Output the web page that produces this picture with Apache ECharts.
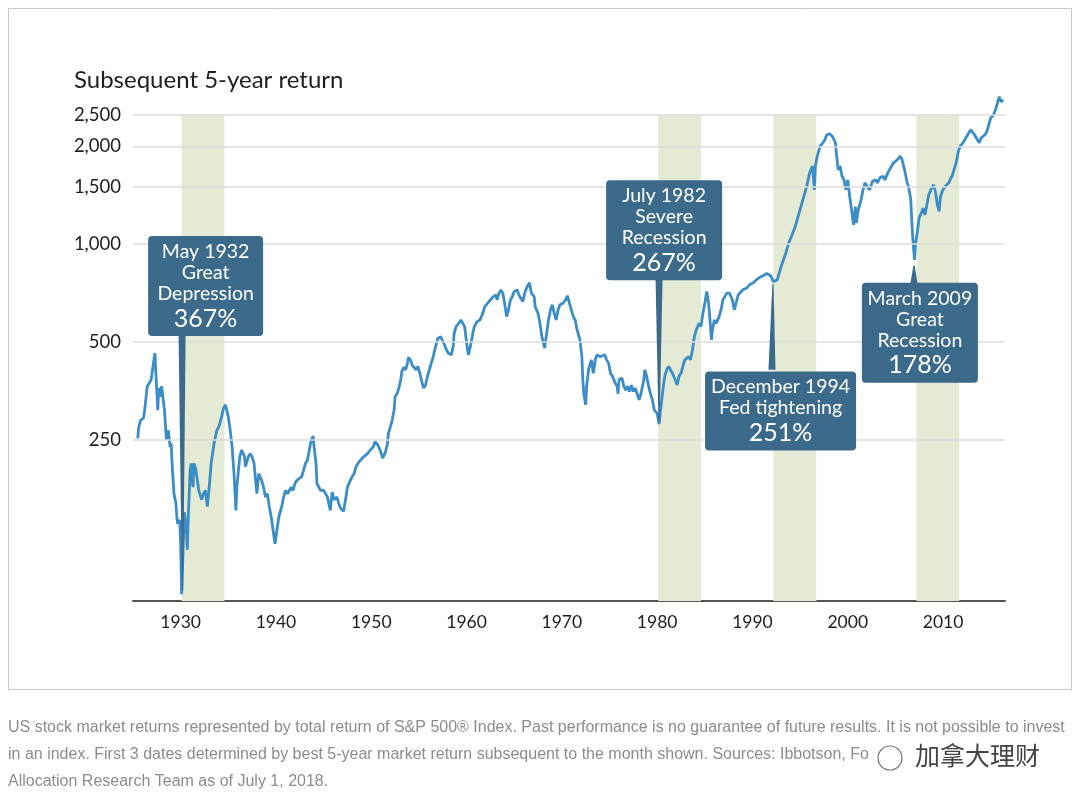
<!DOCTYPE html>
<html>
<head>
<meta charset="utf-8">
<script src="https://cdn.jsdelivr.net/npm/echarts@6/dist/echarts.min.js"></script>
<style>
  html, body { margin: 0; padding: 0; background: #fff; }
  #chart { width: 1080px; height: 802px; }
</style>
</head>
<body>
<div id="chart"></div>
<script>
// years as placed on the printed axis, value of $100 after 5 years (log scale)
var years = [
  1925.5,1925.6,1925.8,1926.1,1926.2,1926.5,1926.7,1926.9,1927.1,1927.3,
  1927.4,1927.6,1927.7,1927.9,1928.0,1928.3,1928.4,1928.5,1928.7,1928.9,
  1929.0,1929.1,1929.3,1929.5,1929.6,1929.7,1929.9,1930.0,1930.1,1930.3,
  1930.4,1930.6,1930.7,1930.8,1931.0,1931.1,1931.3,1931.4,1931.6,1931.8,
  1931.9,1932.2,1932.4,1932.6,1932.8,1933.0,1933.2,1933.5,1933.8,1934.0,
  1934.3,1934.5,1934.7,1935.0,1935.2,1935.4,1935.6,1935.8,1935.9,1936.2,
  1936.4,1936.6,1936.7,1936.8,1937.1,1937.3,1937.5,1937.7,1937.9,1938.0,
  1938.2,1938.5,1938.7,1938.9,1939.1,1939.3,1939.5,1939.7,1939.9,1940.1,
  1940.3,1940.6,1940.8,1941.0,1941.2,1941.4,1941.6,1941.8,1942.0,1942.2,
  1942.4,1942.7,1942.9,1943.1,1943.3,1943.5,1943.7,1943.9,1944.0,1944.2,
  1944.3,1944.5,1944.7,1945.0,1945.4,1945.7,1945.9,1946.1,1946.4,1946.6,
  1946.8,1947.1,1947.3,1947.5,1947.8,1948.0,1948.2,1948.4,1948.7,1948.9,
  1949.2,1949.4,1949.6,1949.9,1950.2,1950.4,1950.7,1951.0,1951.2,1951.5,
  1951.7,1951.8,1952.0,1952.2,1952.4,1952.5,1952.7,1952.9,1953.1,1953.2,
  1953.4,1953.6,1953.8,1953.9,1954.1,1954.3,1954.5,1954.7,1954.9,1955.1,
  1955.3,1955.5,1955.7,1955.9,1956.2,1956.5,1956.7,1957.0,1957.3,1957.5,
  1957.7,1957.9,1958.1,1958.4,1958.6,1958.7,1958.9,1959.2,1959.4,1959.6,
  1959.8,1960.1,1960.2,1960.4,1960.6,1960.8,1961.1,1961.4,1961.7,1961.9,
  1962.2,1962.5,1962.8,1963.1,1963.2,1963.4,1963.6,1963.8,1964.0,1964.2,
  1964.4,1964.6,1964.8,1965.0,1965.3,1965.5,1965.7,1965.9,1966.1,1966.3,
  1966.6,1966.8,1967.1,1967.2,1967.5,1967.7,1967.9,1968.2,1968.4,1968.6,
  1968.8,1969.0,1969.2,1969.4,1969.6,1969.8,1970.1,1970.4,1970.6,1970.8,
  1971.0,1971.2,1971.4,1971.6,1971.9,1972.1,1972.2,1972.3,1972.5,1972.6,
  1972.8,1973.1,1973.3,1973.5,1973.7,1974.0,1974.2,1974.5,1974.7,1974.9,
  1975.1,1975.3,1975.6,1975.8,1975.9,1976.0,1976.3,1976.5,1976.7,1976.9,
  1977.1,1977.3,1977.5,1977.7,1977.9,1978.1,1978.3,1978.6,1978.7,1978.9,
  1979.1,1979.3,1979.5,1979.7,1980.0,1980.2,1980.4,1980.6,1980.8,1981.0,
  1981.2,1981.4,1981.6,1981.9,1982.1,1982.3,1982.5,1982.7,1982.9,1983.1,
  1983.3,1983.5,1983.7,1983.9,1984.1,1984.4,1984.6,1984.8,1985.0,1985.2,
  1985.4,1985.6,1985.7,1985.8,1986.0,1986.2,1986.5,1986.7,1986.9,1987.3,
  1987.6,1987.9,1988.1,1988.5,1989.0,1989.4,1989.7,1990.1,1990.4,1990.8,
  1991.1,1991.5,1991.7,1991.9,1992.2,1992.6,1993.0,1993.5,1993.8,1994.1,
  1994.5,1994.8,1995.2,1995.5,1995.7,1996.0,1996.3,1996.5,1996.6,1996.8,
  1997.1,1997.4,1997.6,1997.8,1998.1,1998.4,1998.7,1998.8,1999.0,1999.2,
  1999.4,1999.6,1999.8,2000.0,2000.2,2000.4,2000.6,2000.8,2000.9,2001.1,
  2001.4,2001.6,2001.8,2002.0,2002.3,2002.6,2002.9,2003.1,2003.4,2003.7,
  2003.9,2004.2,2004.5,2004.8,2005.2,2005.5,2005.7,2006.0,2006.2,2006.4,
  2006.6,2006.7,2006.8,2007.0,2007.1,2007.3,2007.5,2007.8,2007.9,2008.1,
  2008.3,2008.5,2008.8,2009.0,2009.2,2009.4,2009.6,2009.7,2009.9,2010.1,
  2010.4,2010.6,2010.8,2011.0,2011.2,2011.4,2011.6,2011.8,2012.1,2012.4,
  2012.7,2012.9,2013.1,2013.3,2013.6,2013.8,2014.0,2014.2,2014.4,2014.6,
  2014.8,2015.0,2015.3,2015.5,2015.7,2015.9,2016.1,2016.3
];
var returns = [
  253,274,288,292,305,366,374,383,421,463,
  401,309,362,340,366,309,281,250,268,238,
  244,212,171,160,145,138,142,120,84,126,
  150,132,115,145,202,212,179,212,202,184,
  175,164,171,175,156,179,212,244,268,274,
  295,313,321,295,268,238,197,152,179,222,
  233,236,222,207,222,227,222,212,212,171,
  197,188,179,167,171,156,145,132,120,132,
  145,156,167,175,171,175,179,175,184,188,
  188,193,202,212,217,233,250,257,238,212,
  184,179,175,175,167,152,173,164,167,159,
  154,151,164,179,188,193,197,207,214,212,
  222,225,227,233,238,247,241,230,220,230,
  244,262,274,288,309,340,347,361,383,405,
  418,411,431,449,441,425,421,411,421,401,
  378,361,369,393,421,451,478,514,519,502,
  490,473,462,457,485,532,558,572,585,592,
  558,473,457,485,520,558,578,585,613,642,
  658,674,690,698,674,707,724,707,658,599,
  628,674,690,715,724,698,707,666,707,734,
  761,707,690,642,613,571,521,479,532,585,
  628,651,613,585,628,651,658,674,694,658,
  628,599,585,545,508,451,383,347,321,366,
  411,441,401,441,457,451,457,457,441,431,
  401,393,374,366,347,383,388,366,356,366,
  352,369,352,361,347,332,347,383,411,393,
  366,347,332,309,302,280,317,356,393,411,
  421,411,401,383,369,393,401,421,441,441,
  451,441,473,519,545,571,558,613,658,715,
  658,558,508,545,585,571,599,628,674,707,
  707,674,628,698,724,734,750,761,777,792,
  800,813,818,800,767,777,852,939,1009,1058,
  1135,1220,1340,1438,1508,1657,1738,1470,1738,1866,
  2003,2052,2094,2170,2186,2143,2052,1910,1693,1738,
  1618,1577,1470,1577,1402,1275,1147,1305,1161,1275,
  1369,1470,1545,1508,1470,1561,1577,1545,1604,1618,
  1577,1657,1718,1779,1818,1866,1818,1673,1561,1489,
  1380,1208,1068,895,995,1091,1208,1262,1291,1231,
  1321,1418,1489,1523,1452,1321,1262,1386,1452,1489,
  1523,1545,1561,1635,1714,1797,1928,2003,2052,2124,
  2200,2248,2221,2170,2094,2052,2124,2143,2170,2221,
  2329,2444,2500,2590,2710,2840,2740,2780
];

var xTicks = [1930, 1940, 1950, 1960, 1970, 1980, 1990, 2000, 2010];
var yTicks = [250, 500, 1000, 1500, 2000, 2500];

// shaded periods (axis years)
var bandStart = [1930.1, 1980.1, 1992.2, 2007.2];
var bandEnd   = [1934.6, 1984.6, 1996.7, 2011.7];

var calloutDate = ['May 1932', 'July 1982', 'December 1994', 'March 2009'];
var calloutEvent = [['Great', 'Depression'], ['Severe', 'Recession'], ['Fed tightening'], ['Great', 'Recession']];
var calloutReturn = ['367%', '267%', '251%', '178%'];

// where each callout box sits and where its pointer goes (base -> tip)
var calloutLayout = [
  { box: [1932.62, 744], w: 115, stem: [1930.15, 526, 1930.2, 86] },
  { box: [1980.73, 1103], w: 116, stem: [1980.2, 782, 1980.2, 286] },
  { box: [1992.95, 307], w: 151, stem: [1992.05, 411, 1992.15, 755] },
  { box: [2007.57, 534], w: 116, stem: [2006.95, 760, 2006.95, 862] }
];

var YMIN = 80, YMAX = 3000;
var BOX = '#3b6a8b';
var FONT = 'Lato, "Open Sans", sans-serif';
var NOTE_FONT = '16px "Liberation Sans", sans-serif';

function fmt(v) {
  return String(v).replace(/\B(?=(\d{3})+(?!\d))/g, ',');
}

var chart = echarts.init(document.getElementById('chart'));

var lineData = years.map(function(y, i) { return [y, returns[i]]; });

var bands = bandStart.map(function(s, i) {
  return [{ xAxis: s, yAxis: 2500 }, { xAxis: bandEnd[i], yAxis: YMIN }];
});

var grids = yTicks.map(function(v) {
  return [{ coord: [1925, v] }, { coord: [2016.5, v] }];
});

var boxes = calloutDate.map(function(d, i) {
  var lines = ['{t|' + d + '}'];
  calloutEvent[i].forEach(function(e) { lines.push('{t|' + e + '}'); });
  lines.push('{p|' + calloutReturn[i] + '}');
  var w = calloutLayout[i].w;
  return {
    coord: calloutLayout[i].box,
    symbolSize: 0,
    label: {
      show: true,
      position: 'inside',
      formatter: lines.join('\n'),
      backgroundColor: BOX,
      borderRadius: 4,
      width: w,
      align: 'center',
      padding: [5, 0, 3, 0],
      rich: {
        t: { color: '#fff', fontSize: 19.5, lineHeight: 21, fontFamily: FONT, align: 'center', width: w },
        p: { color: '#fff', fontSize: 25, lineHeight: 29, fontFamily: FONT, align: 'center', width: w }
      }
    }
  };
});

var stems = calloutLayout.map(function(c) { return c.stem; });

// tapered pointer from box edge to the line
function renderStem(params, api) {
  var a = api.coord([api.value(0), api.value(1)]);
  var b = api.coord([api.value(2), api.value(3)]);
  return {
    type: 'polygon',
    shape: { points: [[a[0] - 3.5, a[1]], [a[0] + 3.5, a[1]], [b[0] + 0.6, b[1]], [b[0] - 0.6, b[1]]] },
    style: { fill: BOX }
  };
}

var option = {
  animation: false,
  backgroundColor: '#fff',
  title: {
    text: 'Subsequent 5-year return',
    left: 69,
    top: 63,
    textStyle: { fontFamily: FONT, fontSize: 24, fontWeight: 'normal', color: '#1e1e1e' }
  },
  grid: { left: 133, right: 75, top: 89, bottom: 201 },
  xAxis: {
    type: 'value',
    min: 1925,
    max: 2016.5,
    axisLine: { lineStyle: { color: '#555', width: 2 } },
    axisTick: { show: false },
    splitLine: { show: false },
    axisLabel: {
      customValues: xTicks,
      formatter: function(v) { return String(v); },
      color: '#1e1e1e',
      fontSize: 17.5,
      fontFamily: FONT,
      margin: 12
    }
  },
  yAxis: {
    type: 'log',
    logBase: 10,
    min: YMIN,
    max: YMAX,
    axisLine: { show: false },
    axisTick: { show: false },
    splitLine: { show: false },
    axisLabel: {
      customValues: yTicks,
      formatter: function(v) { return fmt(Math.round(v)); },
      color: '#1e1e1e',
      fontSize: 18.5,
      fontFamily: FONT,
      margin: 12
    }
  },
  series: [
    {
      name: 'bands',
      type: 'line',
      data: [],
      z: 1,
      silent: true,
      markArea: { silent: true, itemStyle: { color: '#e5ead4' }, data: bands },
      markLine: {
        silent: true,
        symbol: ['none', 'none'],
        label: { show: false },
        lineStyle: { color: '#dcdcdc', width: 1.5, type: 'solid' },
        data: grids
      }
    },
    {
      name: 'return',
      type: 'line',
      data: lineData,
      z: 3,
      showSymbol: false,
      lineStyle: { color: '#3a8dc6', width: 2.8 },
      silent: true
    },
    {
      name: 'pointers',
      type: 'custom',
      renderItem: renderStem,
      data: stems,
      encode: { x: [0, 2], y: [1, 3] },
      z: 5,
      silent: true
    },
    {
      name: 'callouts',
      type: 'line',
      data: [],
      z: 6,
      silent: true,
      markPoint: { silent: true, data: boxes }
    }
  ],
  graphic: [
    {
      type: 'rect',
      shape: { x: 8.5, y: 8.5, width: 1063, height: 681 },
      style: { fill: 'none', stroke: '#c8c8c8', lineWidth: 1 },
      silent: true
    },
    {
      type: 'text', left: 8, top: 720,
      style: { text: 'US stock market returns represented by total return of S&P 500\u00ae Index. Past performance is no guarantee of future results. It is not possible to invest',
        fill: '#8c8c8c', font: NOTE_FONT }
    },
    {
      type: 'text', left: 8, top: 747,
      style: { text: 'in an index. First 3 dates determined by best 5-year market return subsequent to the month shown. Sources: Ibbotson, Fo',
        fill: '#8c8c8c', font: NOTE_FONT }
    },
    {
      type: 'text', left: 8, top: 774,
      style: { text: 'Allocation Research Team as of July 1, 2018.',
        fill: '#8c8c8c', font: NOTE_FONT }
    },
    {
      type: 'circle', shape: { cx: 890, cy: 758, r: 12 },
      style: { fill: '#fff', stroke: '#777', lineWidth: 1.2 }
    },
    {
      type: 'text', left: 914, top: 742,
      style: { text: '加拿大理财', fill: '#444', stroke: '#fff', lineWidth: 2,
        font: '25px "Noto Sans CJK SC", sans-serif' }
    }
  ]
};

chart.setOption(option);
</script>
</body>
</html>
